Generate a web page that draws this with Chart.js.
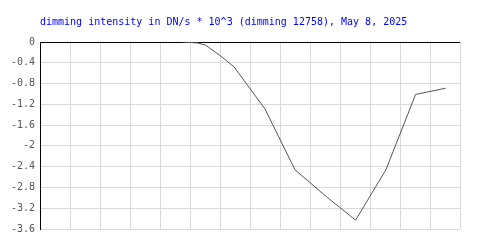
<!DOCTYPE html>
<html>
<head>
<meta charset="utf-8">
<script src="https://cdn.jsdelivr.net/npm/chart.js@4"></script>
<style>
html,body{margin:0;padding:0;background:#fff;}
#c{display:block;}
</style>
</head>
<body>
<canvas id="c" width="500" height="250"></canvas>
<script>
const titleText = "dimming intensity in DN/s * 10^3 (dimming 12758), May 8, 2025";
const xValues = [4.77, 5.27, 5.52, 6.0, 6.47, 7.5, 8.5, 9.55, 10.52, 11.53, 12.52, 13.52];
const yValues = [0, -0.02, -0.06, -0.26, -0.48, -1.29, -2.46, -2.98, -3.43, -2.46, -1.01, -0.89];
const yTickLabels = ['0','-0.4','-0.8','-1.2','-1.6','-2','-2.4','-2.8','-3.2','-3.6'];

const points = xValues.map((x, i) => ({x: x, y: yValues[i]}));
const monoFont = {family: "'DejaVu Sans Mono', monospace", size: 10};

new Chart(document.getElementById('c'), {
  type: 'line',
  data: {
    datasets: [{
      data: points,
      borderColor: '#555555',
      borderWidth: 1,
      pointRadius: 0,
      tension: 0,
      fill: false
    }]
  },
  options: {
    responsive: false,
    animation: false,
    layout: {padding: {left: 0, right: 40, top: 0, bottom: 21}},
    plugins: {
      legend: {display: false},
      tooltip: {enabled: false},
      title: {
        display: true,
        text: titleText,
        align: 'start',
        fullSize: false,
        color: '#0000ff',
        font: {family: "'DejaVu Sans Mono', monospace", size: 10, weight: 'normal'},
        padding: {top: 16, bottom: 14}
      }
    },
    scales: {
      x: {
        type: 'linear',
        min: 0,
        max: 14,
        ticks: {display: false, stepSize: 1},
        grid: {color: '#d9d9d9', drawTicks: false},
        border: {display: false}
      },
      y: {
        min: -3.6,
        max: 0,
        afterFit: (s) => { s.width = 40; },
        ticks: {
          stepSize: 0.4,
          padding: 5,
          color: '#555555',
          font: monoFont,
          callback: (v) => {
            const l = yTickLabels.find(t => Math.abs(Number(t) - v) < 1e-6);
            return l === undefined ? '' : l;
          }
        },
        grid: {
          drawTicks: false,
          color: (ctx) => (ctx.tick && Math.abs(ctx.tick.value) < 1e-9) ? '#000000' : '#d9d9d9'
        },
        border: {display: true, color: '#000000', width: 1}
      }
    }
  }
});
</script>
</body>
</html>
